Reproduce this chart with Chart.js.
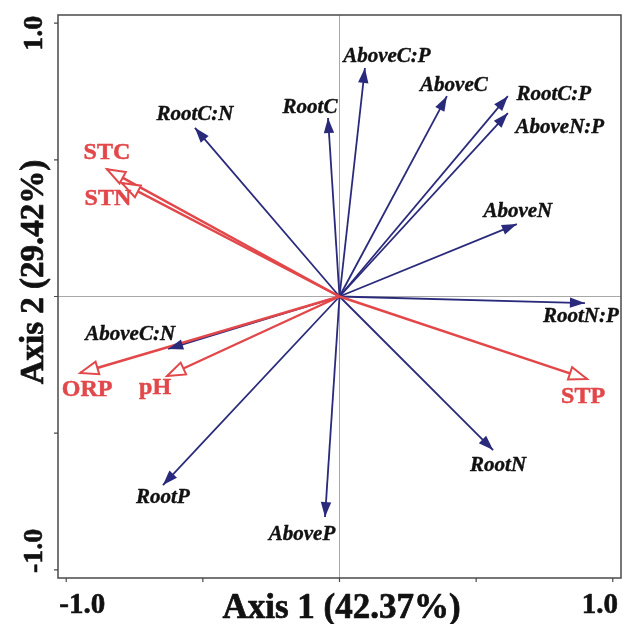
<!DOCTYPE html>
<html>
<head>
<meta charset="utf-8">
<script src="https://cdn.jsdelivr.net/npm/chart.js@4.4.1/dist/chart.umd.min.js"></script>
<style>
  html, body { margin: 0; padding: 0; background: #fff; }
  #wrap { width: 623px; height: 624px; position: relative; }
</style>
</head>
<body>
<div id="wrap"><canvas id="c"></canvas></div>
<script>
// ---- Data (RDA biplot loadings) ----
const bioLabels = ['RootC:N','RootC','AboveC:P','AboveC','RootC:P','AboveN:P','AboveN','RootN:P','RootN','AboveP','RootP','AboveC:N'];
const bioAxis1  = [-0.529, -0.042, 0.093, 0.393, 0.616, 0.616, 0.649, 0.898, 0.562, -0.053, -0.646, -0.627];
const bioAxis2  = [ 0.617,  0.653, 0.836, 0.733, 0.733, 0.671, 0.265, -0.024, -0.562, -0.807, -0.690, -0.192];

const envLabels = ['STC','STN','ORP','pH','STP'];
const envAxis1  = [-0.851, -0.796, -0.949, -0.631, 0.906];
const envAxis2  = [ 0.466,  0.415, -0.280, -0.291, -0.302];

const axisTicks  = [-1, -0.5, 0, 0.5, 1];
const tickLabels = ['-1.0', '', '', '', '1.0'];
const xTitle = 'Axis 1 (42.37%)';
const yTitle = 'Axis 2 (29.42%)';

// ---- Styling (label pixel offsets from arrow tips) ----
const BLUE = '#2a2a7c';
const RED = '#e2474a';
const labelOffset = {
  'RootC:N': [0, -13], 'RootC': [-18, -10], 'AboveC:P': [22, -11], 'AboveC': [7, -11],
  'RootC:P': [46, -2], 'AboveN:P': [52, 14], 'AboveN': [1, -12], 'RootN:P': [-4, 14],
  'RootN': [5, 15], 'AboveP': [-23, 18], 'RootP': [0, 13], 'AboveC:N': [-38, -14],
  'STC': [0, -16], 'STN': [-14, 16], 'ORP': [7, 17], 'pH': [-12, 12], 'STP': [-4, 18]
};

const datasets = [];
envLabels.forEach((lab, i) => {
  datasets.push({
    label: lab, kind: 'env',
    data: [{x: 0, y: 0}, {x: envAxis1[i], y: envAxis2[i]}],
    showLine: true, borderColor: RED, borderWidth: 2.4, pointRadius: 0, fill: false
  });
});
bioLabels.forEach((lab, i) => {
  datasets.push({
    label: lab, kind: 'bio',
    data: [{x: 0, y: 0}, {x: bioAxis1[i], y: bioAxis2[i]}],
    showLine: true, borderColor: BLUE, borderWidth: 1.8, pointRadius: 0, fill: false
  });
});

const SERIF = '"Liberation Serif", "Times New Roman", serif';

function heavyText(ctx, txt, x, y, color, w) {
  ctx.fillStyle = color;
  ctx.strokeStyle = color;
  ctx.lineWidth = w;
  ctx.lineJoin = 'round';
  ctx.strokeText(txt, x, y);
  ctx.fillText(txt, x, y);
}

const overlay = {
  id: 'overlay',
  beforeDatasetsDraw(chart) {
    const {ctx, chartArea: a, scales: {x, y}} = chart;
    const x0 = x.getPixelForValue(0), y0 = y.getPixelForValue(0);
    ctx.save();
    ctx.strokeStyle = '#a8a8a8';
    ctx.lineWidth = 1;
    ctx.beginPath();
    ctx.moveTo(x0, a.top); ctx.lineTo(x0, a.bottom);
    ctx.moveTo(a.left, y0); ctx.lineTo(a.right, y0);
    ctx.stroke();
    ctx.restore();
  },
  afterDatasetsDraw(chart) {
    const {ctx} = chart;
    ctx.save();
    chart.data.datasets.forEach((ds, i) => {
      const meta = chart.getDatasetMeta(i);
      const p0 = meta.data[0], p1 = meta.data[1];
      const ang = Math.atan2(p1.y - p0.y, p1.x - p0.x);
      const env = ds.kind === 'env';
      const L = env ? 18 : 15, W = env ? 6.5 : 5.2;
      const ux = Math.cos(ang), uy = Math.sin(ang);
      const bx = p1.x - L * ux, by = p1.y - L * uy;
      ctx.beginPath();
      ctx.moveTo(p1.x, p1.y);
      ctx.lineTo(bx - W * uy, by + W * ux);
      ctx.lineTo(bx + W * uy, by - W * ux);
      ctx.closePath();
      if (env) {
        ctx.fillStyle = '#fff'; ctx.fill();
        ctx.strokeStyle = RED; ctx.lineWidth = 2; ctx.lineJoin = 'miter'; ctx.stroke();
      } else {
        ctx.fillStyle = BLUE; ctx.fill();
      }
      const off = labelOffset[ds.label] || [0, 0];
      ctx.textAlign = 'center';
      ctx.textBaseline = 'middle';
      if (env) {
        ctx.font = 'bold 24px ' + SERIF;
        heavyText(ctx, ds.label, p1.x + off[0], p1.y + off[1], RED, 0.5);
      } else {
        ctx.font = 'italic bold 21px ' + SERIF;
        heavyText(ctx, ds.label, p1.x + off[0], p1.y + off[1], '#111', 0.4);
      }
    });
    ctx.restore();
  },
  afterDraw(chart) {
    const {ctx, chartArea: a, scales: {x, y}} = chart;
    ctx.save();
    // frame
    ctx.strokeStyle = '#4a4a4a';
    ctx.lineWidth = 1.5;
    ctx.strokeRect(a.left, a.top, a.right - a.left, a.bottom - a.top);
    // ticks
    ctx.lineWidth = 1.2;
    ctx.beginPath();
    axisTicks.forEach(v => {
      const px = x.getPixelForValue(v);
      ctx.moveTo(px, a.bottom); ctx.lineTo(px, a.bottom + 4);
      const py = y.getPixelForValue(v);
      ctx.moveTo(a.left, py); ctx.lineTo(a.left - 4, py);
    });
    ctx.stroke();
    // tick labels
    ctx.font = 'bold 29px ' + SERIF;
    ctx.textBaseline = 'alphabetic';
    axisTicks.forEach((v, i) => {
      const t = tickLabels[i];
      if (!t) return;
      const px = x.getPixelForValue(v);
      const shift = v < 0 ? 16 : -13;
      ctx.textAlign = 'center';
      heavyText(ctx, t, px + shift, 613, '#111', 0.6);
    });
    ctx.font = 'bold 28px ' + SERIF;
    axisTicks.forEach((v, i) => {
      const t = tickLabels[i];
      if (!t) return;
      const py = y.getPixelForValue(v);
      const shift = v < 0 ? -19 : 10;
      ctx.save();
      ctx.translate(42, py + shift);
      ctx.rotate(-Math.PI / 2);
      ctx.textAlign = 'center';
      heavyText(ctx, t, 0, 0, '#111', 0.6);
      ctx.restore();
    });
    // axis titles
    ctx.font = 'bold 35px ' + SERIF;
    ctx.textAlign = 'center';
    heavyText(ctx, xTitle, (a.left + a.right) / 2 + 2, 618, '#111', 0.7);
    ctx.save();
    ctx.translate(43, 272);
    ctx.rotate(-Math.PI / 2);
    ctx.font = 'bold 33px ' + SERIF;
    heavyText(ctx, yTitle, 0, 0, '#111', 0.7);
    ctx.restore();
    ctx.restore();
  }
};

new Chart(document.getElementById('c'), {
  type: 'scatter',
  data: { datasets },
  options: {
    responsive: true,
    maintainAspectRatio: false,
    animation: false,
    layout: { padding: { left: 58, top: 15, right: 2, bottom: 46 } },
    plugins: { legend: { display: false }, tooltip: { enabled: false } },
    scales: {
      x: { type: 'linear', min: -1.03, max: 1.03, display: false },
      y: { type: 'linear', min: -1.03, max: 1.03, display: false }
    }
  },
  plugins: [overlay]
});
</script>
</body>
</html>
